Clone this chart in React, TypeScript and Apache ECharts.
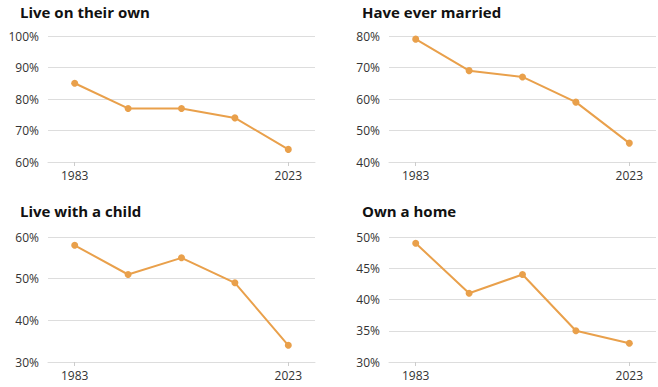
import React, { useEffect, useRef } from "react";
import * as echarts from "echarts";

const years = ["1983", "1993", "2003", "2013", "2023"];
const titles = ["Live on their own", "Have ever married", "Live with a child", "Own a home"];
const liveOnOwn = [85, 77, 77, 74, 64];
const everMarried = [79, 69, 67, 59, 46];
const liveWithChild = [58, 51, 55, 49, 34];
const ownHome = [49, 41, 44, 35, 33];
const yMin = [60, 40, 30, 30];
const yMax = [100, 80, 60, 50];
const yStep = [10, 10, 10, 5];

const FONT = "'Open Sans', 'Noto Sans', sans-serif";
const LINE = "#E9A04B";

export default function App() {
  const ref = useRef<HTMLDivElement>(null);
  useEffect(() => {
    if (!ref.current) return;
    const chart = echarts.init(ref.current, null, { renderer: "svg" });
    const seriesData = [liveOnOwn, everMarried, liveWithChild, ownHome];
    const grids = [
      { left: 48, top: 36, width: 267, height: 126 },
      { left: 389, top: 36, width: 267, height: 126 },
      { left: 48, top: 237, width: 267, height: 125 },
      { left: 389, top: 237, width: 267, height: 125 },
    ];
    const titlePos = [
      { left: 20, top: 4 },
      { left: 362, top: 4 },
      { left: 20, top: 203 },
      { left: 362, top: 203 },
    ];
    const showIdx = (i: number) => i === 0 || i === years.length - 1;
    chart.setOption({
      animation: false,
      title: titles.map((t, i) => ({
        text: t,
        left: titlePos[i].left,
        top: titlePos[i].top,
        padding: 0,
        textStyle: { fontFamily: FONT, fontSize: 15, fontWeight: "bold", color: "#111" },
      })),
      grid: grids,
      xAxis: grids.map((_, i) => ({
        type: "category",
        gridIndex: i,
        data: years,
        boundaryGap: true,
        axisLine: { show: true, lineStyle: { color: "#dddddd", width: 1 } },
        axisTick: {
          show: true,
          alignWithLabel: true,
          interval: (idx: number) => showIdx(idx),
          length: 4,
          lineStyle: { color: "#cccccc" },
        },
        axisLabel: {
          interval: (idx: number) => showIdx(idx),
          color: "#333",
          fontFamily: FONT,
          fontSize: 12,
          margin: 7,
        },
      })),
      yAxis: grids.map((_, i) => ({
        type: "value",
        gridIndex: i,
        min: yMin[i],
        max: yMax[i],
        interval: yStep[i],
        axisLine: { show: false },
        axisTick: { show: false },
        splitLine: { lineStyle: { color: "#dddddd", width: 1 } },
        axisLabel: {
          formatter: "{value}%",
          color: "#333",
          fontFamily: FONT,
          fontSize: 12,
          margin: 9,
        },
      })),
      series: seriesData.map((d, i) => ({
        type: "line",
        xAxisIndex: i,
        yAxisIndex: i,
        data: d,
        symbol: "circle",
        symbolSize: 7,
        lineStyle: { color: LINE, width: 2 },
        itemStyle: { color: LINE },
      })),
    });
    return () => chart.dispose();
  }, []);
  return (
    <div
      ref={ref}
      style={{ position: "absolute", left: 0, top: 0, width: 658, height: 387, background: "#fff" }}
    />
  );
}
